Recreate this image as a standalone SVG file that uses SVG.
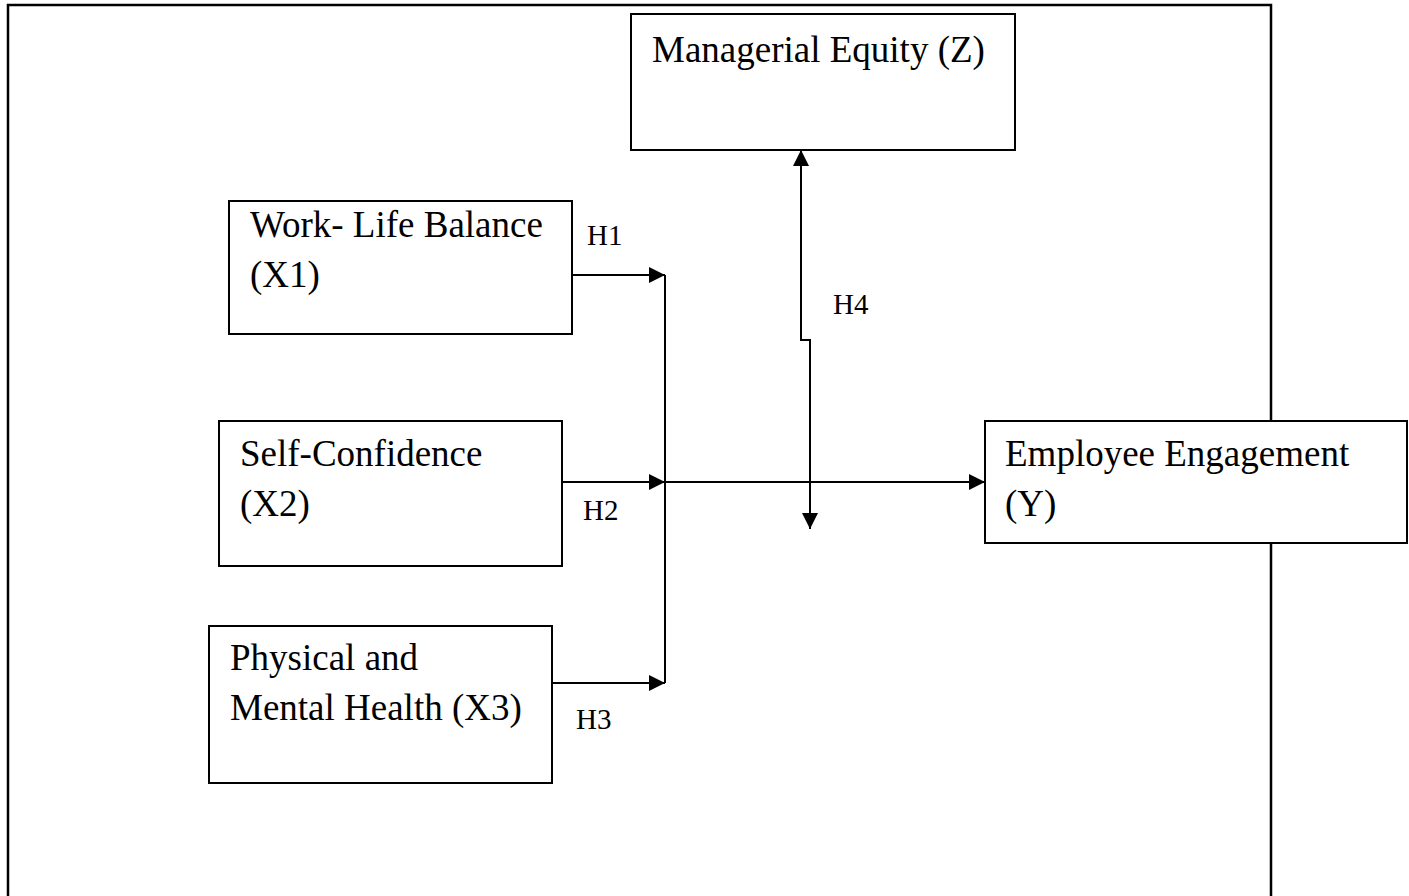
<svg xmlns="http://www.w3.org/2000/svg" width="1409" height="896" viewBox="0 0 1409 896">
<style>
.box{fill:#fff;stroke:#000;stroke-width:2}
.t{font-family:"Liberation Serif","Times New Roman",serif;font-size:37px;fill:#000}
.h{font-family:"Liberation Serif","Times New Roman",serif;font-size:29px;fill:#000}
.ln{fill:none;stroke:#000;stroke-width:2}
</style>
<defs>
<marker id="ah" viewBox="0 0 10 10" refX="10" refY="5" markerWidth="17" markerHeight="16" markerUnits="userSpaceOnUse" orient="auto-start-reverse">
<path d="M0,0 L10,5 L0,10 z" fill="#000"/>
</marker>
</defs>
<rect x="0" y="0" width="1409" height="896" fill="#fff"/>
<path id="frame" d="M8,910 L8,5 L1271,5 L1271,910" fill="none" stroke="#000" stroke-width="2.5"/>
<g id="connectors">
<line class="ln" x1="572" y1="275" x2="665" y2="275" marker-end="url(#ah)"/>
<line class="ln" x1="562" y1="482" x2="665" y2="482" marker-end="url(#ah)"/>
<line class="ln" x1="552" y1="683" x2="665" y2="683" marker-end="url(#ah)"/>
<line class="ln" x1="665" y1="275" x2="665" y2="683"/>
<line class="ln" x1="665" y1="482" x2="985" y2="482" marker-end="url(#ah)"/>
<path class="ln" d="M801,150 L801,340 L810,340 L810,529" marker-start="url(#ah)" marker-end="url(#ah)"/>
<text class="h" x="587" y="245">H1</text>
<text class="h" x="583" y="520">H2</text>
<text class="h" x="576" y="729">H3</text>
<text class="h" x="833" y="314">H4</text>
</g>
<g id="managerial">
<rect class="box" x="631" y="14" width="384" height="136"/>
<text class="t" x="652" y="62">Managerial Equity (Z)</text>
</g>
<g id="worklife">
<rect class="box" x="229" y="201" width="343" height="133"/>
<text class="t" x="250" y="237">Work- Life Balance</text>
<text class="t" x="250" y="287">(X1)</text>
</g>
<g id="selfconf">
<rect class="box" x="219" y="421" width="343" height="145"/>
<text class="t" x="240" y="466">Self-Confidence</text>
<text class="t" x="240" y="516">(X2)</text>
</g>
<g id="health">
<rect class="box" x="209" y="626" width="343" height="157"/>
<text class="t" x="230" y="670">Physical and</text>
<text class="t" x="230" y="720">Mental Health (X3)</text>
</g>
<g id="engagement">
<rect class="box" x="985" y="421" width="422" height="122"/>
<text class="t" x="1005" y="466">Employee Engagement</text>
<text class="t" x="1005" y="516">(Y)</text>
</g>
</svg>
